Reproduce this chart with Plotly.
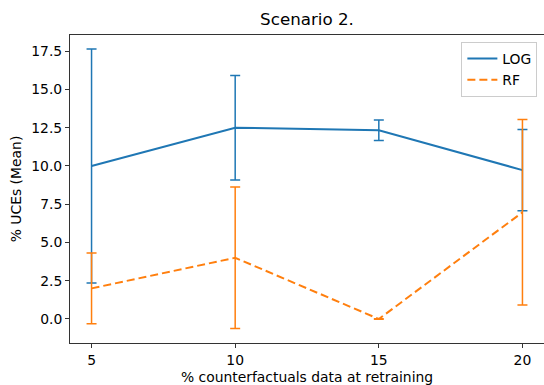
import plotly.graph_objects as go

x_vals = [5, 10, 15, 20]
log_mean = [10.0, 12.5, 12.33, 9.73]
log_err = [7.65, 3.42, 0.67, 2.66]
rf_mean = [2.0, 4.0, 0.0, 6.97]
rf_err = [2.32, 4.62, 0.02, 6.06]
y_ticks = [0.0, 2.5, 5.0, 7.5, 10.0, 12.5, 15.0, 17.5]

BLUE = "#1f77b4"
ORANGE = "#ff7f0e"
FS = 13.9

fig = go.Figure()
fig.add_trace(go.Scatter(
    x=x_vals, y=log_mean, mode="lines", name="LOG",
    line=dict(color=BLUE, width=2),
    error_y=dict(type="data", array=log_err, visible=True, color=BLUE, thickness=1.5, width=5),
))
fig.add_trace(go.Scatter(
    x=x_vals, y=rf_mean, mode="lines", name="RF",
    line=dict(color=ORANGE, width=2, dash="8px,4px"),
    error_y=dict(type="data", array=rf_err, visible=True, color=ORANGE, thickness=1.5, width=5),
))

axis_common = dict(
    showline=True, linecolor="#333", linewidth=1,
    ticks="outside", ticklen=4, tickcolor="#333", tickwidth=1,
    showgrid=False, zeroline=False,
    tickfont=dict(family="DejaVu Sans", size=FS, color="black"),
)

fig.update_layout(
    width=544, height=385,
    margin=dict(l=70, r=0, t=35, b=42),
    paper_bgcolor="white", plot_bgcolor="white",
    font=dict(family="DejaVu Sans", size=FS, color="black"),
    title=dict(text="Scenario 2.", x=0.5, xref="paper", xanchor="center",
               y=1 - 19 / 385, yanchor="middle", font=dict(size=16.7, color="black")),
    xaxis=dict(range=[4.25, 20.75], tickvals=x_vals, ticktext=[str(v) for v in x_vals],
               mirror=True,
               title=dict(text="% counterfactuals data at retraining", standoff=6,
                          font=dict(size=FS)),
               **axis_common),
    yaxis=dict(range=[-1.57, 18.56], tickvals=y_ticks,
               ticktext=[f"{v:.1f}" for v in y_ticks],
               mirror=False,
               title=dict(text="% UCEs (Mean)", standoff=6, font=dict(size=FS)),
               **axis_common),
    legend=dict(x=0.986, y=0.977, xanchor="right", yanchor="top",
                bordercolor="#ccc", borderwidth=1, bgcolor="rgba(255,255,255,0.8)",
                font=dict(size=FS)),
    showlegend=True,
)

fig.write_html("out.html")
